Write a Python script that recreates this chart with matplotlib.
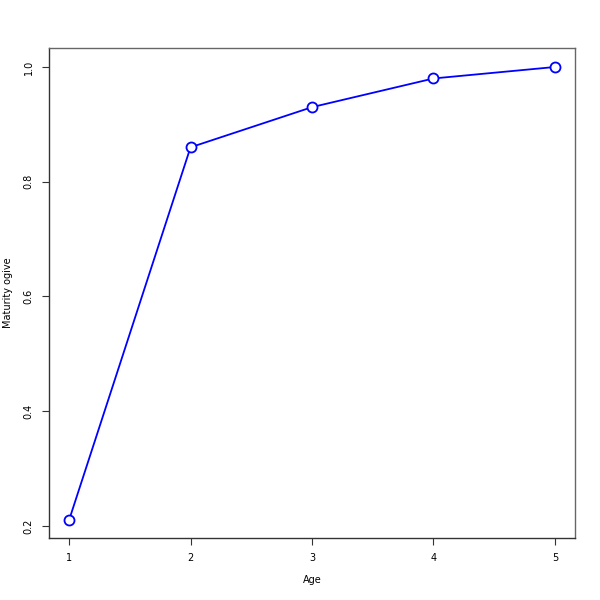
import matplotlib
matplotlib.use("Agg")
import matplotlib.pyplot as plt

age = [1, 2, 3, 4, 5]
maturity = [0.21, 0.86, 0.93, 0.98, 1.0]
yticks = [0.2, 0.4, 0.6, 0.8, 1.0]

fig = plt.figure(figsize=(6, 6), dpi=100)
ax = fig.add_axes([49/600, 62/600, 526/600, 490/600])

ax.plot(age, maturity, color="blue", lw=1.3, marker="o", ms=7.2,
        mfc="white", mec="blue", mew=1.3)

ax.set_xlim(0.835, 5.165)
ax.set_ylim(0.179, 1.0331)
ax.set_xticks(age)
ax.set_yticks(yticks)
ax.set_yticklabels([f"{v:.1f}" for v in yticks], rotation=90, va="center")
ax.tick_params(labelsize=7, length=5, width=0.8, color="#333333")
ax.tick_params(axis="x", pad=6)
ax.tick_params(axis="y", pad=6)

for s in ["left", "bottom"]:
    ax.spines[s].set_color("#333333")
for s in ["top", "right"]:
    ax.spines[s].set_color("#666666")
for s in ax.spines.values():
    s.set_linewidth(1.0)

fig.text(312/600, 1 - 580/600, "Age", ha="center", va="center", fontsize=7)
fig.text(8/600, 1 - 293/600, "Maturity ogive", ha="center", va="center",
         rotation=90, fontsize=7)

fig.savefig("out.png", dpi=100, facecolor="white")
